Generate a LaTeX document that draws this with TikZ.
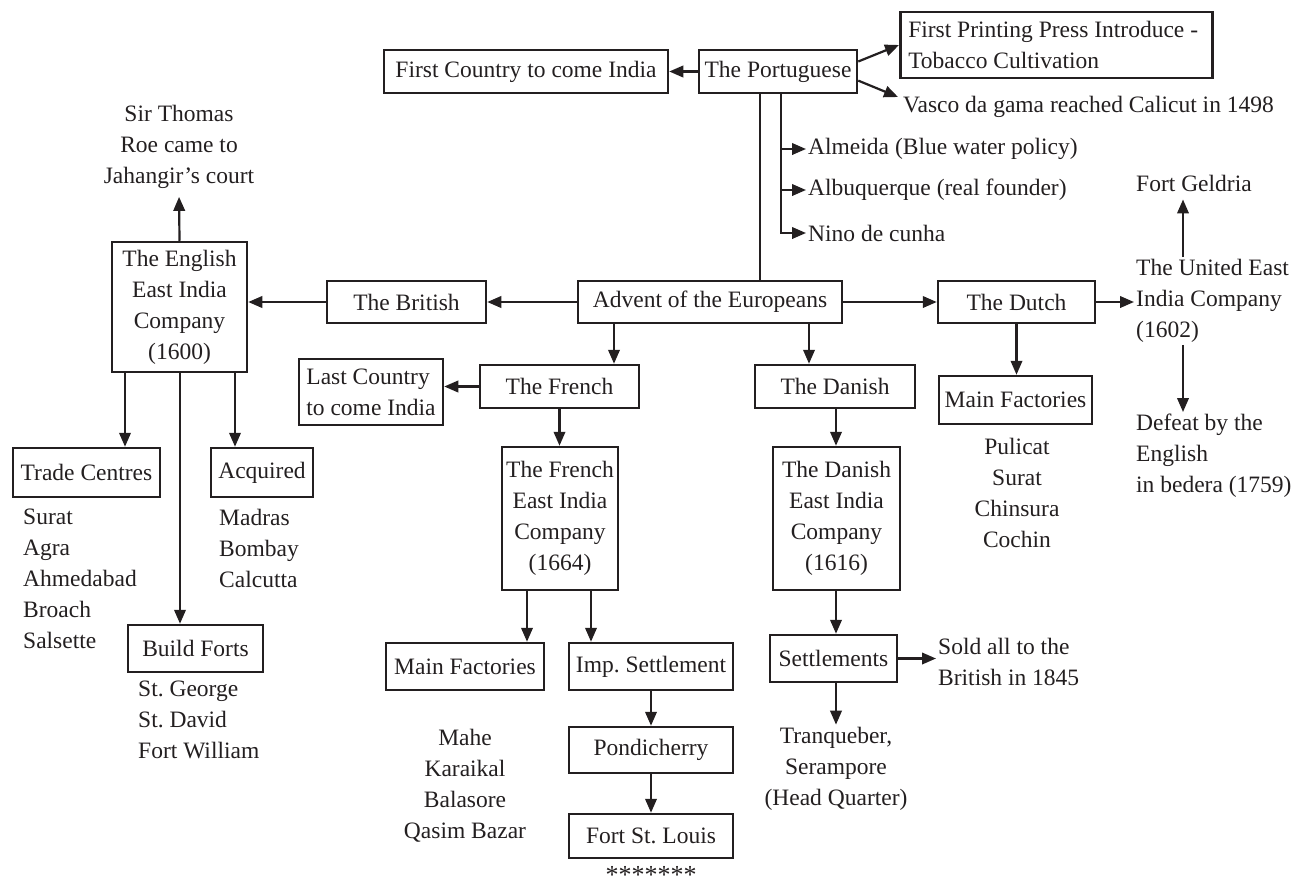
\documentclass[tikz,border=0pt]{standalone}
\usepackage{fontspec}
\setmainfont{Liberation Serif}
\usetikzlibrary{arrows.meta,calc}
\definecolor{ink}{HTML}{231F20}
\newcommand{\diafont}{\fontsize{23.5}{31}\selectfont\frenchspacing}
\begin{document}
\begin{tikzpicture}[x=1pt,y=-1pt,
  box/.style={draw=ink, line width=2.5pt, inner sep=0pt, align=center, text=ink, font=\diafont},
  txt/.style={inner sep=2pt, align=left, text=ink, font=\diafont},
  arr/.style={draw=ink, line width=2.2pt, -{Triangle[length=14pt,width=11.5pt]}},
  ln/.style={draw=ink, line width=2.2pt}]
\useasboundingbox (0,0) rectangle (1296,887);

% ---------- top ----------
\node[box, minimum width=284, minimum height=43] (fc) at (526,71.5) {First Country to come India};
\node[box, minimum width=158, minimum height=43] (port) at (778,71.5) {The Portuguese};
\node[box, anchor=west, text width=296pt, align=flush left, inner xsep=8pt, minimum height=66] (print) at (899,45) {First Printing Press Introduce -\\Tobacco Cultivation};
\node[txt, anchor=west] (vasco) at (901,107) {Vasco da gama reached Calicut in 1498};
\node[txt, anchor=west] (alm) at (806,149) {Almeida (Blue water policy)};
\node[txt, anchor=west] (alb) at (806,190) {Albuquerque (real founder)};
\node[txt, anchor=west] (nino) at (806,233) {Nino de cunha};

% ---------- middle row ----------
\node[box, minimum width=264, minimum height=42] (adv) at (710,302) {Advent of the Europeans};
\node[box, minimum width=159, minimum height=42] (brit) at (406.5,302) {The British};
\node[box, minimum width=157, minimum height=42] (dutch) at (1016.5,302) {The Dutch};
\node[box, minimum width=135, minimum height=130] (eng) at (179.5,307) {The English\\East India\\Company\\(1600)};
\node[txt, align=center] (sir) at (179,147) {Sir Thomas\\Roe came to\\Jahangir’s court};

% ---------- English ----------
\node[box, minimum width=147, minimum height=49] (tc) at (86.5,472.5) {Trade Centres};
\node[box, minimum width=102, minimum height=49] (acq) at (262,472.5) {Acquired};
\node[box, minimum width=135, minimum height=47] (bf) at (195.5,648.5) {Build Forts};
\node[txt, anchor=west] (tcl) at (21,579) {Surat\\Agra\\Ahmedabad\\Broach\\Salsette};
\node[txt, anchor=west] (acql) at (217,548.5) {Madras\\Bombay\\Calcutta};
\node[txt, anchor=west] (bfl) at (136,720) {St. George\\St. David\\Fort William};

% ---------- French ----------
\node[box, minimum width=159, minimum height=43] (fr) at (559.5,386.5) {The French};
\node[box, minimum width=144, minimum height=66, align=left] (lc) at (371,392) {Last Country\\to come India};
\node[box, minimum width=116, minimum height=143] (feic) at (560,518.5) {The French\\East India\\Company\\(1664)};
\node[box, minimum width=158, minimum height=47] (fmf) at (465,666.5) {Main Factories};
\node[box, minimum width=164, minimum height=47] (imp) at (651,666.5) {Imp. Settlement};
\node[box, minimum width=164, minimum height=46] (pond) at (651,750) {Pondicherry};
\node[box, minimum width=164, minimum height=44] (fsl) at (651,836) {Fort St. Louis};
\node[txt, align=center] (fmfl) at (465,786) {Mahe\\Karaikal\\Balasore\\Qasim Bazar};
\node[txt, anchor=north, inner sep=0pt, font=\fontsize{26}{30}\selectfont] (stars) at (651,866) {*******};

% ---------- Danish ----------
\node[box, minimum width=160, minimum height=43] (dan) at (835,386.5) {The Danish};
\node[box, minimum width=127, minimum height=143] (deic) at (836.5,518.5) {The Danish\\East India\\Company\\(1616)};
\node[box, minimum width=127, minimum height=47] (set) at (833.5,658.5) {Settlements};
\node[txt, anchor=west] (sold) at (936,661.5) {Sold all to the\\British in 1845};
\node[txt, align=center] (tranq) at (836,768.5) {Tranqueber,\\Serampore\\(Head Quarter)};

% ---------- Dutch ----------
\node[box, minimum width=153, minimum height=48] (dmf) at (1015.5,400) {Main Factories};
\node[txt, align=center] (dmfl) at (1017,493) {Pulicat\\Surat\\Chinsura\\Cochin};
\node[txt, anchor=west] (uni) at (1134,301) {The United East\\India Company\\(1602)};
\node[txt, anchor=west] (geld) at (1134,183) {Fort Geldria};
\node[txt, anchor=west] (def) at (1134,456) {Defeat by the\\English\\in bedera (1759)};

% ---------- helper x positions ----------
\coordinate (tx) at (760,0);
\coordinate (bx) at (781,0);
\coordinate (fa) at (614,0);
\coordinate (da) at (809,0);
\coordinate (dx) at (836,0);
\coordinate (f1) at (527,0);
\coordinate (f2) at (591,0);
\coordinate (ux) at (1183,0);
\coordinate (e1) at (125,0);
\coordinate (e2) at (180,0);
\coordinate (e3) at (235,0);

% ---------- connectors ----------
\draw[arr] (port.west) -- (fc.east);
\draw[arr] ($(port.north east)!0.28!(port.south east)$) -- (print.west);
\draw[arr] ($(port.north east)!0.7!(port.south east)$) -- ($(vasco.west)+(-3,-10)$);
\draw[ln] (port.south -| tx) -- (adv.north -| tx);
\draw[arr] (port.south -| bx) -- (nino.west -| bx) -- (nino.west);
\draw[arr] (alm.west -| bx) -- (alm.west);
\draw[arr] (alb.west -| bx) -- (alb.west);

\draw[arr] (adv.west) -- (brit.east);
\draw[arr] (brit.west) -- (brit.west -| eng.east);
\draw[arr] (adv.east) -- (dutch.west);
\draw[arr, shorten >=6pt] (eng.north) -- (sir.south);

\draw[arr] (eng.south -| e1) -- (tc.north -| e1);
\draw[arr] (eng.south -| e2) -- (bf.north -| e2);
\draw[arr] (eng.south -| e3) -- (acq.north -| e3);

\draw[arr] (adv.south -| fa) -- (fr.north -| fa);
\draw[arr] (fr.west) -- (fr.west -| lc.east);
\draw[arr] (fr.south) -- (fr.south |- feic.north);
\draw[arr] (feic.south -| f1) -- (fmf.north -| f1);
\draw[arr] (feic.south -| f2) -- (imp.north -| f2);
\draw[arr] (imp.south) -- (pond.north);
\draw[arr] (pond.south) -- (fsl.north);

\draw[arr] (adv.south -| da) -- (dan.north -| da);
\draw[arr] (dan.south -| dx) -- (deic.north -| dx);
\draw[arr] (deic.south -| dx) -- (set.north -| dx);
\draw[arr] (set.east) -- (set.east -| sold.west);
\draw[arr] (set.south -| dx) -- (tranq.north -| dx);

\draw[arr] (dutch.east) -- (dutch.east -| uni.west);
\draw[arr] (dutch.south) -- (dutch.south |- dmf.north);
\draw[arr, shorten >=6pt] (uni.north -| ux) -- (geld.south -| ux);
\draw[arr] (uni.south -| ux) -- (def.north -| ux);
\end{tikzpicture}
\end{document}
